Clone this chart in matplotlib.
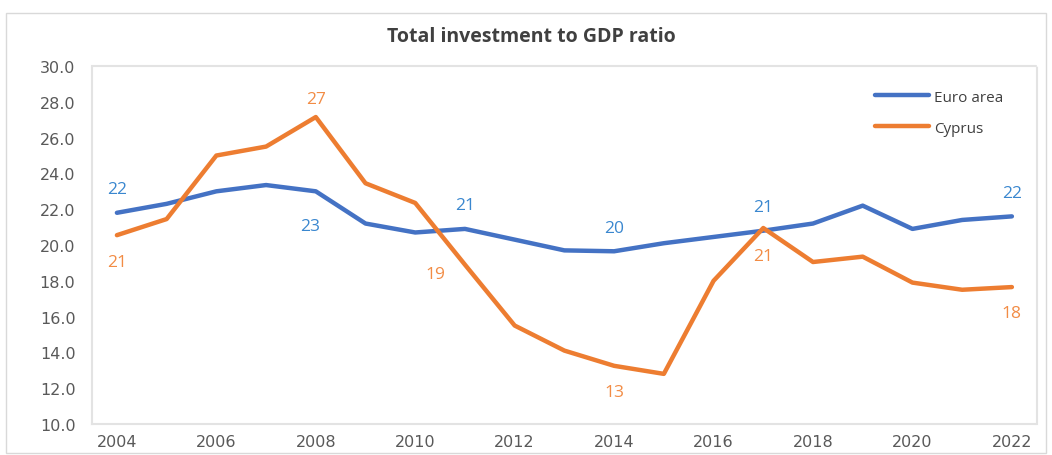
import matplotlib
matplotlib.use("Agg")
import matplotlib.pyplot as plt
from matplotlib.ticker import FormatStrFormatter

years = list(range(2004, 2023))
euro_area = [21.8, 22.3, 23.0, 23.35, 23.0, 21.2, 20.7, 20.9, 20.3, 19.7, 19.65,
             20.1, 20.45, 20.8, 21.2, 22.2, 20.9, 21.4, 21.6]
cyprus = [20.55, 21.45, 25.0, 25.5, 27.15, 23.45, 22.35, 18.9, 15.5, 14.1, 13.25,
          12.8, 18.0, 20.95, 19.05, 19.35, 17.9, 17.5, 17.65]

# labelled points: (year, text, offset in points)
euro_labels = [(2004, "22", (0, 17)), (2008, "23", (-4, -25)), (2011, "21", (0, 17)),
               (2014, "20", (0, 17)), (2017, "21", (0, 17)), (2022, "22", (0, 17))]
cyprus_labels = [(2004, "21", (0, -19)), (2008, "27", (0, 13)), (2011, "19", (-21, -7)),
                 (2014, "13", (0, -19)), (2017, "21", (0, -20)), (2022, "18", (0, -19))]

xticks = list(range(2004, 2023, 2))

plt.rcParams['font.family'] = ['Liberation Sans Narrow', 'DejaVu Sans']

fig = plt.figure(figsize=(10.52, 4.56), dpi=100)
ax = fig.add_axes([0.0875, 0.068, 0.898, 0.785])

blue = "#4472C4"
orange = "#ED7D31"
ax.plot(years, euro_area, color=blue, lw=3.2, label="Euro area", solid_capstyle="round")
ax.plot(years, cyprus, color=orange, lw=3.2, label="Cyprus", solid_capstyle="round")

for yr, txt, off in euro_labels:
    ax.annotate(txt, (yr, euro_area[years.index(yr)]), xytext=off, textcoords="offset points",
                ha="center", va="center", color="#3A87CF", fontsize=12.5,
                family=["Open Sans", "DejaVu Sans"])
for yr, txt, off in cyprus_labels:
    ax.annotate(txt, (yr, cyprus[years.index(yr)]), xytext=off, textcoords="offset points",
                ha="center", va="center", color="#F28C45", fontsize=12.5,
                family=["Open Sans", "DejaVu Sans"])

ax.set_xlim(2003.5, 2022.5)
ax.set_ylim(10, 30)
ax.set_xticks(xticks)
ax.set_yticks(range(10, 31, 2))
ax.yaxis.set_major_formatter(FormatStrFormatter("%.1f"))
ax.tick_params(length=0, labelsize=11.5, colors="#595959")
ax.tick_params(axis="x", pad=7)
ax.tick_params(axis="y", pad=12)
for sp in ax.spines.values():
    sp.set_color("#E3E3E3")
    sp.set_linestyle((0, (1, 1)))
    sp.set_linewidth(1.5)

leg = ax.legend(loc="upper right", frameon=False, fontsize=11.5, handlelength=3.4,
                labelspacing=1.0, handletextpad=0.3, bbox_to_anchor=(0.98, 0.975))
for t in leg.get_texts():
    t.set_color("#404040")
    t.set_family(["Open Sans", "DejaVu Sans"])
    t.set_fontsize(11)

fig.text(0.505, 0.918, "Total investment to GDP ratio", ha="center", va="center",
         fontsize=14, fontweight="bold", color="#404040", family=["Open Sans", "DejaVu Sans"])

# outer border
fig.patches.append(plt.Rectangle((0.006, 0.005), 0.988, 0.965, transform=fig.transFigure,
                                 fill=False, edgecolor="#D9D9D9", lw=1))

fig.savefig("out.png", dpi=100)
